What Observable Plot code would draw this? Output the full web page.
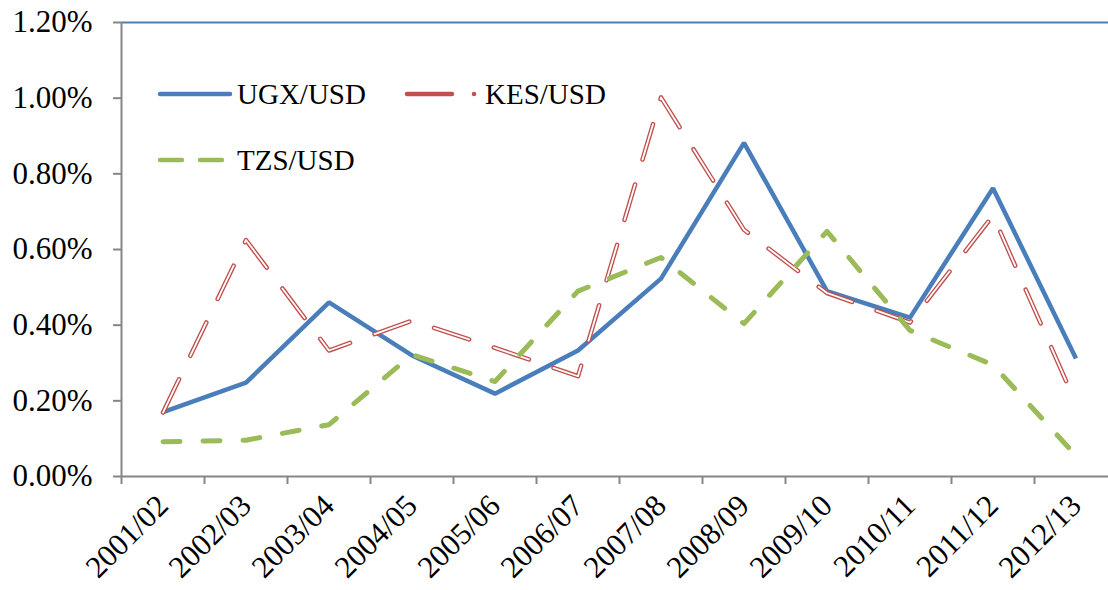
<!DOCTYPE html>
<html>
<head>
<meta charset="utf-8">
<script src="https://cdn.jsdelivr.net/npm/d3@7"></script>
<script src="https://cdn.jsdelivr.net/npm/@observablehq/plot@0.6"></script>
<style>
  html, body { margin: 0; padding: 0; background: #fff; }
  #wrap { position: relative; width: 1108px; height: 590px; overflow: hidden; }
  #legend { position: absolute; left: 0; top: 0; pointer-events: none; }
  svg text { font-family: "Liberation Serif", "Times New Roman", serif; }
</style>
</head>
<body>
<div id="wrap"></div>
<script>
// ---- data ----
const periods = ["2001/02","2002/03","2003/04","2004/05","2005/06","2006/07","2007/08","2008/09","2009/10","2010/11","2011/12","2012/13"];
const ugx = [0.170, 0.248, 0.460, 0.320, 0.219, 0.333, 0.523, 0.882, 0.490, 0.420, 0.762, 0.312];
const kes = [0.169, 0.625, 0.333, 0.412, 0.340, 0.265, 1.002, 0.652, 0.485, 0.407, 0.690, 0.193];
const tzs = [0.092, 0.096, 0.137, 0.322, 0.251, 0.490, 0.579, 0.404, 0.648, 0.386, 0.295, 0.055];
const yTicks = [0, 0.2, 0.4, 0.6, 0.8, 1.0, 1.2];
const seriesNames = ["UGX/USD", "KES/USD", "TZS/USD"];

const colors = {"UGX/USD": "#4a7ebb", "KES/USD": "#c0504d", "TZS/USD": "#9bbb59"};
const rows = (vals, name) => periods.map((p, i) => ({period: p, value: vals[i], series: name}));
const ugxRows = rows(ugx, seriesNames[0]);
const kesRows = rows(kes, seriesNames[1]);
const tzsRows = rows(tzs, seriesNames[2]);

const xRange = [121, 1117];
const halfBand = (xRange[1] - xRange[0]) / periods.length / 2;
const axisGray = "#868686";
const font = "'Liberation Serif', 'Times New Roman', serif";

const chart = Plot.plot({
  width: 1108,
  height: 590,
  marginTop: 22,
  marginBottom: 114,
  marginLeft: 121,
  marginRight: 0,
  style: {fontFamily: font, background: "#fff", color: "#000", overflow: "hidden"},
  x: {type: "band", domain: periods, range: xRange, padding: 0},
  y: {domain: [0, 1.2], range: [476, 22]},
  marks: [
    Plot.ruleY([1.2], {stroke: "#4a7ebb", strokeWidth: 2}),
    Plot.ruleY([0], {stroke: axisGray, strokeWidth: 2}),
    Plot.ruleX([periods[0]], {x: d => d, dx: -halfBand, y1: 0, y2: 1.2, stroke: axisGray, strokeWidth: 2}),
    Plot.ruleX(periods, {x: d => d, dx: -halfBand, y1: 0, y2: 0, insetBottom: -8, stroke: axisGray, strokeWidth: 2}),
    Plot.axisY({ticks: yTicks, tickFormat: d => d.toFixed(2) + "%", tickSize: 8, tickPadding: 21,
      fontSize: 31, stroke: axisGray, strokeWidth: 2, fill: "#000", label: null}),
    Plot.axisX({tickSize: 0, tickRotate: -45, tickPadding: 24, fontSize: 31, fill: "#000", label: null}),
    Plot.line(ugxRows, {x: "period", y: "value", stroke: colors["UGX/USD"], strokeWidth: 4.5,
      strokeLinejoin: "miter", strokeLinecap: "butt"}),
    Plot.line(kesRows, {x: "period", y: "value", stroke: colors["KES/USD"], strokeWidth: 4.5,
      strokeDasharray: "37,26", strokeLinecap: "round", strokeLinejoin: "round"}),
    Plot.line(kesRows, {x: "period", y: "value", stroke: "#fff", strokeWidth: 1.8,
      strokeDasharray: "37,26", strokeLinecap: "round", strokeLinejoin: "round"}),
    Plot.line(tzsRows, {x: "period", y: "value", stroke: colors["TZS/USD"], strokeWidth: 5,
      strokeDasharray: "17,23", strokeLinecap: "round", strokeLinejoin: "round"})
  ]
});
document.getElementById("wrap").appendChild(chart);

// ---- legend overlay (inside plot area, top-left) ----
const leg = d3.select("#wrap").append("svg").attr("id", "legend")
  .attr("width", 1108).attr("height", 590);
const legendItems = [
  {name: seriesNames[0], x: 160, y: 94, dash: null, len: 70, tx: 237},
  {name: seriesNames[1], x: 407, y: 94, dash: "45,22,0,22", len: 68, tx: 485},
  {name: seriesNames[2], x: 160, y: 160, dash: "22,18", len: 62, tx: 237}
];
for (const it of legendItems) {
  leg.append("line")
    .attr("x1", it.x).attr("x2", it.x + it.len)
    .attr("y1", it.y).attr("y2", it.y)
    .attr("stroke", colors[it.name]).attr("stroke-width", 4.5)
    .attr("stroke-linecap", "round")
    .attr("stroke-dasharray", it.dash);
  leg.append("text")
    .attr("x", it.tx)
    .attr("y", it.y + 10)
    .attr("font-size", 29)
    .attr("fill", "#000")
    .text(it.name);
}
</script>
</body>
</html>
